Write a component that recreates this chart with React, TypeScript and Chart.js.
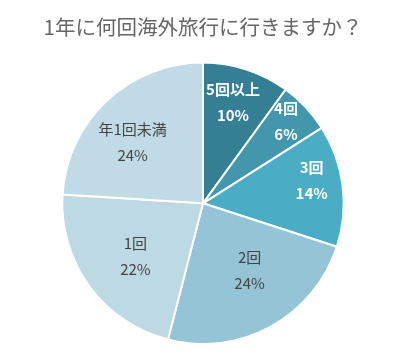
import React, { useEffect, useRef } from "react";
import { Chart, registerables } from "chart.js";

Chart.register(...registerables);

const TITLE = "1年に何回海外旅行に行きますか？";
const categories = ["5回以上", "4回", "3回", "2回", "1回", "年1回未満"];
const values = [10, 6, 14, 24, 22, 24];
const colors = ["#357f94", "#4297ad", "#4aacc5", "#94c4d5", "#bdd9e3", "#c0dbe5"];
const labelColors = ["#ffffff", "#ffffff", "#ffffff", "#444444", "#444444", "#444444"];
const labelWeights = ["bold", "bold", "bold", "normal", "normal", "normal"];
const labelRadius = [0.75, 0.83, 0.79, 0.58, 0.61, 0.66];
const labelAngleShiftDeg = [-1.5, -1.5, -5, -6, -2, -6];

const FONT = "'Noto Sans CJK JP', 'Noto Sans', sans-serif";

const labelPlugin = {
  id: "sliceLabels",
  afterDatasetsDraw(chart: any) {
    const ctx = chart.ctx;
    const meta = chart.getDatasetMeta(0);
    meta.data.forEach((arc: any, i: number) => {
      const p = arc.getProps(["x", "y", "startAngle", "endAngle", "outerRadius"], true);
      const mid = (p.startAngle + p.endAngle) / 2 + (labelAngleShiftDeg[i] * Math.PI) / 180;
      const r = p.outerRadius * labelRadius[i];
      const x = p.x + Math.cos(mid) * r;
      const y = p.y + Math.sin(mid) * r;
      ctx.save();
      ctx.fillStyle = labelColors[i];
      ctx.font = `${labelWeights[i]} 15px ${FONT}`;
      ctx.textAlign = "center";
      ctx.textBaseline = "middle";
      ctx.fillText(categories[i], x, y - 13);
      ctx.fillText(values[i] + "%", x, y + 13);
      ctx.restore();
    });
  },
};

export default function App() {
  const ref = useRef<HTMLCanvasElement>(null);
  useEffect(() => {
    const chart = new Chart(ref.current!, {
      type: "pie",
      data: {
        labels: categories,
        datasets: [
          {
            data: values,
            backgroundColor: colors,
            borderColor: "#ffffff",
            borderWidth: 2,
          },
        ],
      },
      options: {
        animation: false,
        responsive: false,
        layout: { padding: { left: 0, right: 8, top: 0, bottom: 13 } },
        plugins: {
          legend: { display: false },
          tooltip: { enabled: false },
          title: {
            display: true,
            text: TITLE,
            color: "#666666",
            font: { family: FONT, size: 20.5, weight: "normal" },
            padding: { top: 15, bottom: 22 },
          },
        },
      },
      plugins: [labelPlugin],
    });
    return () => chart.destroy();
  }, []);
  return (
    <div style={{ position: "absolute", left: 0, top: 0, width: 414, height: 358, background: "#fff" }}>
      <canvas ref={ref} width={414} height={358} style={{ width: 414, height: 358 }} />
    </div>
  );
}
